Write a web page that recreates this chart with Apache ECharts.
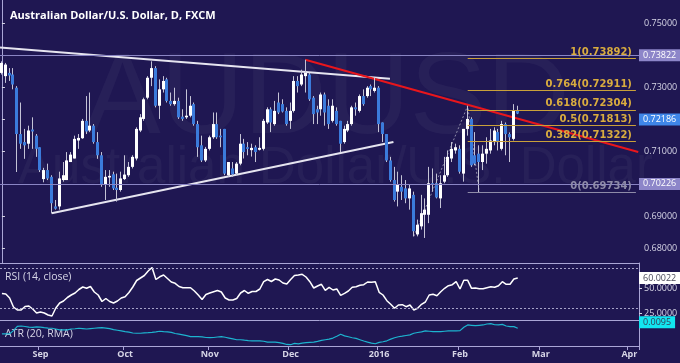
<!DOCTYPE html>
<html><head><meta charset="utf-8">
<script src="https://cdn.jsdelivr.net/npm/echarts/dist/echarts.min.js"></script>
<style>html,body{margin:0;padding:0;background:#1f1752;}#c{width:680px;height:363px;}</style>
</head><body><div id="c"></div>
<script>
// ---- axis categories (weekdays) and month tick labels ----
const firstDay = '2015-08-18', lastDay = '2016-04-05';
const tickDates = ['2015-09-01','2015-10-01','2015-11-02','2015-12-01','2016-01-01','2016-02-01','2016-03-01','2016-04-01'];
const tickLabels = ['Sep','Oct','Nov','Dec','2016','Feb','Mar','Apr'];

// ---- daily candles ----
const opens = [0.7345,0.7335,0.7345,0.7340,0.7299,0.7155,0.7130,0.7125,0.7169,0.7150,
0.7114,0.7015,0.7043,0.7022,0.6930,0.6930,0.7012,0.7012,0.7068,0.7079,
0.7135,0.7142,0.7196,0.7166,0.7181,0.7130,0.7089,0.6997,0.7020,0.7030,
0.6988,0.6981,0.7015,0.7027,0.7053,0.7079,0.7166,0.7202,0.7268,0.7330,
0.7360,0.7243,0.7294,0.7325,0.7258,0.7248,0.7258,0.7209,0.7207,0.7212,
0.7248,0.7186,0.7120,0.7073,0.7109,0.7145,0.7186,0.7150,0.7171,0.7027,
0.7048,0.7032,0.7063,0.7125,0.7114,0.7105,0.7114,0.7106,0.7109,0.7191,
0.7232,0.7186,0.7253,0.7248,0.7227,0.7196,0.7227,0.7320,0.7309,0.7335,
0.7340,0.7268,0.7232,0.7232,0.7278,0.7243,0.7196,0.7227,0.7196,0.7130,
0.7166,0.7186,0.7238,0.7227,0.7273,0.7273,0.7304,0.7289,0.7299,0.7191,
0.7155,0.7073,0.7012,0.6976,0.6991,0.6986,0.6955,0.6966,0.6843,0.6868,
0.6904,0.6904,0.7002,0.7002,0.6955,0.7007,0.7027,0.7079,0.7104,0.7109,
0.7032,0.7171,0.7202,0.7089,0.7094,0.7068,0.7094,0.7104,0.7130,0.7161,
0.7109,0.7186,0.7155,0.7140,0.7227];
const highs = [0.7381,0.7376,0.7360,0.7360,0.7304,0.7253,0.7171,0.7181,0.7207,0.7155,
0.7114,0.7050,0.7063,0.7027,0.6950,0.7038,0.7068,0.7099,0.7099,0.7150,
0.7155,0.7202,0.7273,0.7284,0.7186,0.7161,0.7099,0.7043,0.7043,0.7038,
0.7032,0.7038,0.7089,0.7068,0.7089,0.7176,0.7217,0.7268,0.7335,0.7381,
0.7366,0.7325,0.7335,0.7330,0.7284,0.7299,0.7268,0.7232,0.7294,0.7273,
0.7253,0.7196,0.7150,0.7115,0.7150,0.7222,0.7222,0.7171,0.7171,0.7068,
0.7068,0.7068,0.7155,0.7140,0.7130,0.7125,0.7120,0.7145,0.7202,0.7238,
0.7238,0.7258,0.7284,0.7263,0.7238,0.7253,0.7335,0.7335,0.7355,0.7386,
0.7345,0.7273,0.7243,0.7284,0.7284,0.7263,0.7263,0.7238,0.7196,0.7181,
0.7196,0.7243,0.7253,0.7278,0.7294,0.7304,0.7309,0.7330,0.7304,0.7191,
0.7155,0.7084,0.7053,0.7038,0.7027,0.7012,0.6997,0.6976,0.6889,0.6966,
0.6955,0.7053,0.7048,0.7032,0.7027,0.7084,0.7104,0.7130,0.7125,0.7120,
0.7171,0.7243,0.7207,0.7161,0.7120,0.7120,0.7145,0.7171,0.7176,0.7171,
0.7196,0.7191,0.7160,0.7248,0.7243];
const lows = [0.7340,0.7314,0.7320,0.7294,0.7037,0.7109,0.7078,0.7109,0.7109,0.7084,
0.7037,0.7005,0.7012,0.6909,0.6920,0.6920,0.7007,0.7012,0.7068,0.7079,
0.7109,0.7140,0.7155,0.7161,0.7125,0.7078,0.6991,0.6950,0.6991,0.6981,
0.6945,0.6976,0.7012,0.7022,0.7048,0.7073,0.7161,0.7196,0.7263,0.7304,
0.7238,0.7202,0.7284,0.7253,0.7243,0.7243,0.7202,0.7196,0.7202,0.7207,
0.7181,0.7084,0.7068,0.7068,0.7104,0.7140,0.7140,0.7114,0.7027,0.7022,
0.7022,0.7027,0.7058,0.7079,0.7089,0.7085,0.7068,0.7104,0.7104,0.7186,
0.7161,0.7181,0.7217,0.7222,0.7181,0.7171,0.7222,0.7284,0.7304,0.7284,
0.7258,0.7186,0.7186,0.7212,0.7181,0.7171,0.7191,0.7181,0.7099,0.7125,
0.7161,0.7181,0.7212,0.7222,0.7243,0.7268,0.7273,0.7284,0.7161,0.7130,
0.7068,0.7007,0.6945,0.6930,0.6950,0.6940,0.6920,0.6837,0.6837,0.6858,
0.6832,0.6878,0.6976,0.6955,0.6925,0.7002,0.7022,0.7068,0.7094,0.7032,
0.7007,0.7150,0.7053,0.7058,0.6973,0.7043,0.7063,0.7094,0.7120,0.7104,
0.7104,0.7089,0.7068,0.7135,0.7217];
const closes = [0.7376,0.7371,0.7337,0.7309,0.7155,0.7125,0.7120,0.7166,0.7163,0.7109,
0.7043,0.7043,0.7017,0.6940,0.6923,0.7017,0.7027,0.7073,0.7091,0.7140,
0.7143,0.7196,0.7163,0.7181,0.7130,0.7089,0.6997,0.7022,0.7025,0.6986,
0.6981,0.7017,0.7029,0.7053,0.7084,0.7171,0.7207,0.7263,0.7330,0.7360,
0.7243,0.7294,0.7320,0.7258,0.7248,0.7258,0.7207,0.7202,0.7212,0.7243,
0.7186,0.7114,0.7073,0.7109,0.7145,0.7186,0.7145,0.7145,0.7032,0.7068,
0.7030,0.7063,0.7125,0.7099,0.7109,0.7112,0.7099,0.7112,0.7196,0.7232,
0.7191,0.7227,0.7222,0.7225,0.7186,0.7227,0.7320,0.7304,0.7340,0.7345,
0.7263,0.7217,0.7222,0.7278,0.7222,0.7186,0.7243,0.7186,0.7125,0.7171,
0.7186,0.7238,0.7232,0.7273,0.7248,0.7299,0.7294,0.7299,0.7186,0.7155,
0.7073,0.7012,0.6950,0.6997,0.6976,0.6955,0.6986,0.6853,0.6873,0.6909,
0.6920,0.7002,0.6997,0.6958,0.7002,0.7027,0.7084,0.7109,0.7114,0.7038,
0.7171,0.7202,0.7058,0.7063,0.7068,0.7094,0.7109,0.7135,0.7166,0.7130,
0.7186,0.7155,0.7145,0.7227,0.72186];

// ---- RSI(14) and ATR(20) ----
const rsi = [44.5,44,40,31,28,28,31.5,32,29,25,
26,25,23,22,30,35,37,40.5,43,45,
48.5,51,49.7,51.5,46,43,36.5,39.5,36.5,35,
37,40,41.3,45.5,51,57.5,60,62.5,67,70.5,
58.5,61.2,63,59.5,56,54.7,51.5,50.3,50.3,50.3,
47,43,38.5,43.5,45,46.3,47.5,46,40,38,
38,39.5,45,47.5,44.7,46.5,46.5,49,56.3,58.5,
56.5,59,58,55,54,58.5,62.5,63,63.7,61,
56.3,50,52,53.7,47.7,50.7,48,49,42.7,44.7,
47,50.7,51.3,52.7,53.3,56,55.7,56.3,45.7,43,
37.3,33.7,29.7,33,33.3,31.3,33,28,29.7,33.7,
36,43,43.7,42.3,46.3,49.7,52.3,53.3,56.3,49,
57.7,57.7,49.7,50,49.3,49.3,50.3,51.3,50.7,52.3,
56.3,53.7,53.7,59,60.0022];
const atr = [0.00903,0.00903,0.00903,0.0093,0.00966,0.00969,0.00965,0.0096,0.00957,0.00962,
0.0096,0.00955,0.00952,0.0095,0.00944,0.00937,0.00936,0.00936,0.00944,0.00946,
0.0095,0.00947,0.00944,0.00947,0.0095,0.00953,0.00955,0.00952,0.00947,0.00938,
0.00933,0.00928,0.00922,0.00917,0.0091,0.00908,0.00908,0.00911,0.00913,0.00916,
0.0092,0.00925,0.00922,0.0092,0.00915,0.00906,0.009,0.00894,0.00888,0.0088,
0.0088,0.0088,0.00877,0.00872,0.00871,0.00872,0.00876,0.0088,0.00874,0.00867,
0.0086,0.00853,0.00853,0.00849,0.00846,0.00844,0.00844,0.00844,0.0084,0.00833,
0.00833,0.00833,0.00828,0.00822,0.00813,0.00811,0.00822,0.00818,0.00825,0.00828,
0.00831,0.00833,0.00839,0.00847,0.00853,0.00858,0.00867,0.00883,0.009,0.00886,
0.00878,0.0087,0.00864,0.00853,0.00842,0.00833,0.00825,0.00819,0.00831,0.00836,
0.00844,0.00858,0.0087,0.00878,0.00883,0.00889,0.00894,0.00908,0.00914,0.00919,
0.00928,0.00925,0.00922,0.00922,0.00922,0.00925,0.00928,0.00928,0.00928,0.0093,
0.00958,0.00978,0.00975,0.00972,0.00975,0.00978,0.00986,0.00989,0.0098,0.00978,
0.00983,0.00969,0.00964,0.00964,0.0095];

// ---- annotations (bar index, price) ----
const upperTrend = [[-0.5, 0.7424], [100.8, 0.7327]];
const lowerTrend = [[12.9, 0.6909], [101.7, 0.7130]];
const redTrend = [[78.8, 0.73862], [165.3, 0.7099]];
const swingPath = [[107, 0.6837], [121, 0.7243], [124, 0.69734]];
const fibRatios = ['1','0.764','0.618','0.5','0.382','0'];
const fibLevels = [0.73892, 0.72911, 0.72304, 0.71813, 0.71322, 0.69734];
const fibStart = 121, fibEnd = 164.7;
const hLevels = [0.73822, 0.70226];
const lastClose = 0.72186, lastRsi = 60.0022, lastAtr = 0.0095;
const rsiBands = [70, 30];

// ---- build ----
const categories = [];
for (let t = Date.parse(firstDay); t <= Date.parse(lastDay); t += 864e5) {
  const d = new Date(t), wd = d.getUTCDay();
  if (wd > 0 && wd < 6) categories.push(d.toISOString().slice(0, 10));
}
const N = categories.length;
const candleRows = opens.map((o, i) => [i, o, closes[i], lows[i], highs[i]]);

const BG = '#1f1752', AX = '#aaa6d6', TXT = '#d6d5e6';
const FNT = "'Open Sans', 'Liberation Sans', sans-serif";
const HIDDEN = 'rgba(0,0,0,0)';

function renderCandle(params, api) {
  const i = api.value(0), o = api.value(1), c = api.value(2), l = api.value(3), h = api.value(4);
  const pO = api.coord([i, o]), pC = api.coord([i, c]), pH = api.coord([i, h]), pL = api.coord([i, l]);
  const cx = Math.round(pO[0]) - 1;
  const yTop = Math.min(pO[1], pC[1]), yBot = Math.max(pO[1], pC[1]);
  const up = c >= o;
  return { type: 'group', children: [
    { type: 'line', shape: { x1: cx + 0.5, y1: pH[1], x2: cx + 0.5, y2: pL[1] }, style: { stroke: '#c4c3d6', lineWidth: 1 } },
    { type: 'rect', shape: { x: cx - 1, y: yTop, width: 3, height: Math.max(1, yBot - yTop) }, style: { fill: up ? '#ffffff' : '#3b7bdb' } }
  ]};
}

function badge(bg, fg, text) {
  return { show: true, position: 'end', distance: 0, backgroundColor: bg, color: fg, formatter: text,
    padding: [2, 4, 1, 4], fontFamily: FNT, fontSize: 9 };
}

const priceMin = 0.675415, priceMax = 0.757168;
const hiddenCat = (gi) => ({ type: 'category', gridIndex: gi, data: categories, boundaryGap: true,
  axisLine: { show: true, lineStyle: { color: AX, width: 1 } }, axisTick: { show: false }, axisLabel: { show: false } });

const option = {
  backgroundColor: BG,
  animation: false,
  title: { text: 'Australian Dollar/U.S. Dollar, D, FXCM', left: 5, top: 5,
    textStyle: { color: '#ffffff', fontFamily: FNT, fontWeight: 'bold', fontSize: 11 } },
  graphic: [
    { type: 'text', z: 0, left: 84, top: 44, style: { text: 'AUDUSD', font: "115px 'Liberation Sans', sans-serif", fill: 'rgba(255,255,255,0.04)' } },
    { type: 'text', z: 0, left: 18, top: 143, style: { text: 'Australian Dollar/U.S. Dollar', font: "51px 'Liberation Sans', sans-serif", fill: 'rgba(255,255,255,0.04)' } },
    { type: 'text', left: 5, top: 272, style: { text: 'RSI (14, close)', font: "10.5px 'Open Sans', sans-serif", fill: TXT } },
    { type: 'text', left: 5, top: 329, style: { text: 'ATR (20, RMA)', font: "10.5px 'Open Sans', sans-serif", fill: TXT } }
  ],
  grid: [
    { left: 0, right: 41, top: 0, height: 263, containLabel: false, outerBoundsMode: 'none' },
    { left: 0, right: 41, top: 263, height: 57, containLabel: false, outerBoundsMode: 'none' },
    { left: 0, right: 41, top: 320, height: 26, containLabel: false, outerBoundsMode: 'none' }
  ],
  xAxis: [
    hiddenCat(0), hiddenCat(1),
    { type: 'category', gridIndex: 2, data: categories, boundaryGap: true,
      axisLine: { show: true, lineStyle: { color: AX } },
      axisTick: { show: true, length: 4, lineStyle: { color: AX }, interval: (i, v) => tickDates.includes(v) },
      axisLabel: { show: true, interval: (i, v) => tickDates.includes(v), formatter: v => tickLabels[tickDates.indexOf(v)] || '',
        color: TXT, fontFamily: FNT, fontWeight: 'bold', fontSize: 9, margin: 4, hideOverlap: false } },
    { type: 'value', gridIndex: 0, min: -0.5, max: N - 0.5, show: false }
  ],
  yAxis: [
    { type: 'value', gridIndex: 0, position: 'right', min: priceMin, max: priceMax, minInterval: 0.01, maxInterval: 0.01, splitNumber: 8,
      splitLine: { show: false }, axisLine: { show: true, lineStyle: { color: AX } },
      axisTick: { show: true, length: 3, lineStyle: { color: TXT } },
      axisLabel: { color: TXT, fontFamily: FNT, fontSize: 9, margin: 5, showMinLabel: false, showMaxLabel: false, hideOverlap: false,
        formatter: v => Math.abs(v * 100 - Math.round(v * 100)) < 1e-6 ? v.toFixed(5) : '' } },
    { type: 'value', gridIndex: 1, position: 'right', min: 18, max: 75, minInterval: 25, maxInterval: 25,
      splitLine: { show: false }, axisLine: { show: true, lineStyle: { color: AX } },
      axisTick: { show: true, length: 3, lineStyle: { color: TXT } },
      axisLabel: { color: TXT, fontFamily: FNT, fontSize: 9, margin: 5, showMinLabel: false, showMaxLabel: false, hideOverlap: false,
        formatter: v => (v === 25 || v === 50) ? v.toFixed(4) : '' } },
    { type: 'value', gridIndex: 2, position: 'right', min: 0.0080, max: 0.0102, minInterval: 0.001, maxInterval: 0.001,
      splitLine: { show: false }, axisLine: { show: true, lineStyle: { color: AX } },
      axisTick: { show: false },
      axisLabel: { color: TXT, fontFamily: FNT, fontSize: 9, margin: 5, showMinLabel: false, showMaxLabel: false, hideOverlap: false,
        formatter: v => Math.abs(v - 0.01) < 1e-9 ? '0.0100' : '' } }
  ],
  series: [
    { type: 'line', xAxisIndex: 3, yAxisIndex: 0, data: upperTrend, symbol: 'none', z: 3,
      lineStyle: { color: '#e6e5f0', width: 2 },
      markLine: { silent: true, symbol: ['none', 'none'], animation: false,
        lineStyle: { color: '#8a85c4', width: 1, type: 'solid' },
        data: hLevels.map(v => ({ yAxis: v, label: badge('#8d86c9', '#ffffff', v.toFixed(5)) }))
          .concat([{ yAxis: lastClose, lineStyle: { color: HIDDEN }, label: badge('#3f86e8', '#ffffff', lastClose.toFixed(5)) }]) } },
    { type: 'line', xAxisIndex: 3, yAxisIndex: 0, data: lowerTrend, symbol: 'none', z: 3,
      lineStyle: { color: '#e6e5f0', width: 2 } },
    { type: 'line', xAxisIndex: 3, yAxisIndex: 0, data: swingPath, symbol: 'none', z: 3,
      lineStyle: { color: '#8e8ba8', width: 1, type: [2, 2] },
      markLine: { silent: true, symbol: ['none', 'none'], animation: false,
        data: fibLevels.map((v, k) => {
          const col = fibRatios[k] === '0' ? '#8e8ba8' : '#c9a03a';
          const tcol = fibRatios[k] === '0' ? '#8e8ba8' : '#d9ac3f';
          return [
            { coord: [fibStart, v], lineStyle: { color: col, width: 1, type: 'solid' },
              label: { show: true, position: 'insideEndTop', distance: [4, 1], formatter: fibRatios[k] + '(' + v.toFixed(5) + ')',
                color: tcol, fontFamily: "'DejaVu Sans', sans-serif", fontWeight: 'bold', fontSize: 10 } },
            { coord: [fibEnd, v] }
          ];
        }) } },
    { type: 'line', xAxisIndex: 3, yAxisIndex: 0, data: redTrend, symbol: 'none', z: 3,
      lineStyle: { color: '#e8161c', width: 2 } },
    { type: 'custom', xAxisIndex: 0, yAxisIndex: 0, data: candleRows, renderItem: renderCandle, z: 4,
      encode: { x: 0, y: [1, 2, 3, 4] }, clip: true },
    { type: 'line', xAxisIndex: 1, yAxisIndex: 1, data: rsi, symbol: 'none',
      lineStyle: { color: '#ffffff', width: 1.5 },
      markLine: { silent: true, symbol: ['none', 'none'], animation: false,
        data: rsiBands.map(v => ({ yAxis: v, lineStyle: { color: '#a6a3c8', width: 1, type: [2, 2] }, label: { show: false } }))
          .concat([{ yAxis: lastRsi, lineStyle: { color: HIDDEN }, label: badge('#ffffff', '#4a4a5a', lastRsi.toFixed(4)) }]) } },
    { type: 'line', xAxisIndex: 2, yAxisIndex: 2, data: atr, symbol: 'none',
      lineStyle: { color: '#1db4cf', width: 1.2 },
      markLine: { silent: true, symbol: ['none', 'none'], animation: false,
        data: [{ yAxis: lastAtr, lineStyle: { color: HIDDEN }, label: badge('#12e6f0', '#33405a', lastAtr.toFixed(4)) }] } }
  ]
};
const chart = echarts.init(document.getElementById('c'), null, { renderer: 'canvas' });
chart.setOption(option);
</script>
</body></html>
